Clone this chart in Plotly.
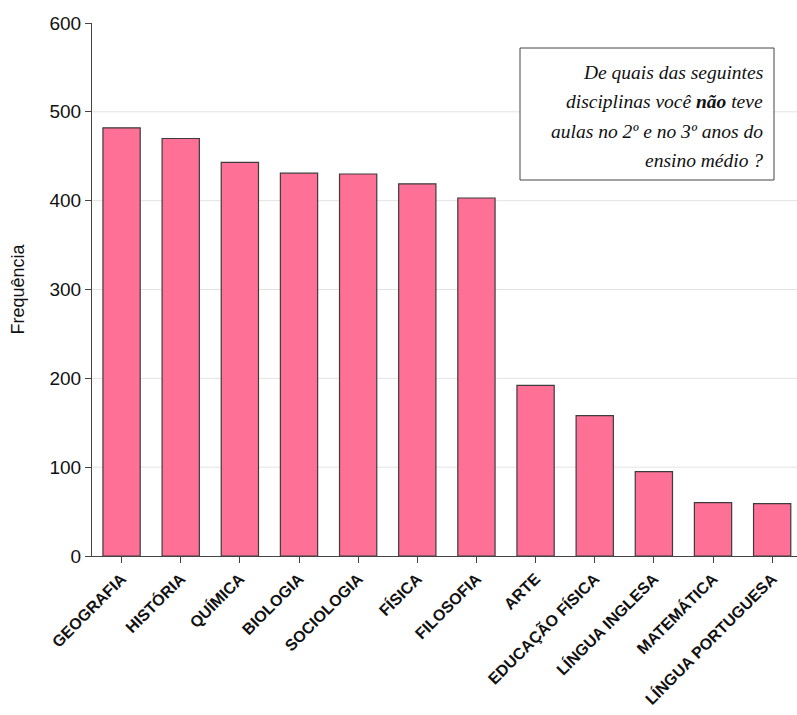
import plotly.graph_objects as go

categories = ["GEOGRAFIA", "HISTÓRIA", "QUÍMICA", "BIOLOGIA", "SOCIOLOGIA", "FÍSICA",
              "FILOSOFIA", "ARTE", "EDUCAÇÃO FÍSICA", "LÍNGUA INGLESA", "MATEMÁTICA",
              "LÍNGUA PORTUGUESA"]
values = [482, 470, 443, 431, 430, 419, 403, 192, 158, 95, 60, 59]
y_ticks = [0, 100, 200, 300, 400, 500, 600]
note_lines = ["De quais das seguintes",
              "disciplinas você <b>não</b> teve",
              "aulas no 2º e no 3º anos do",
              "ensino médio ?"]

W, H = 797, 715
L, R, T, B = 92, 0, 23, 159
pw, ph = W - L - R, H - T - B

fig = go.Figure()
fig.add_trace(go.Bar(
    x=categories, y=values, width=0.63,
    marker=dict(color="#FF7096", line=dict(color="#3c3c3c", width=1.2)),
))

shapes = []
for t in y_ticks:
    if 0 < t < 600:
        shapes.append(dict(type="line", xref="paper", yref="y", x0=0, x1=1, y0=t, y1=t,
                           line=dict(color="#e3e3e3", width=1), layer="below"))

def px_x(px):
    return (px - L) / pw

def px_y(py):
    return (H - B - py) / ph

shapes.append(dict(type="rect", xref="paper", yref="paper",
                   x0=px_x(520), x1=px_x(774), y0=px_y(180), y1=px_y(48),
                   line=dict(color="#444444", width=1), fillcolor="white"))

annotations = []
line_y = [72, 101, 131, 160]
for txt, yy in zip(note_lines, line_y):
    annotations.append(dict(text="<i>" + txt + "</i>", xref="paper", yref="paper",
                            x=px_x(765), y=px_y(yy),
                            xanchor="right", yanchor="middle", showarrow=False,
                            font=dict(family="Liberation Serif", size=19.5, color="#111")))

fig.update_layout(
    width=W, height=H,
    margin=dict(l=L, r=R, t=T, b=B, pad=0),
    plot_bgcolor="white", paper_bgcolor="white",
    showlegend=False,
    shapes=shapes, annotations=annotations,
    font=dict(family="Liberation Sans", color="#111"),
    xaxis=dict(
        range=[-0.5, 11.42], tickangle=-45, ticks="outside", ticklen=6,
        tickcolor="#444", showline=True, linecolor="#444", linewidth=1.2,
        tickfont=dict(family="Liberation Sans", size=16, color="#111"),
        showgrid=False,
        tickmode="array", tickvals=list(range(len(categories))),
        ticktext=["<b>" + c + "</b>" for c in categories],
    ),
    yaxis=dict(
        range=[0, 600], tickvals=y_ticks, ticks="outside", ticklen=6,
        tickcolor="#444", showline=True, linecolor="#444", linewidth=1.2,
        showgrid=False, zeroline=False,
        tickfont=dict(family="Liberation Sans", size=19, color="#111"),
        title=dict(text="Frequência", font=dict(family="Liberation Sans", size=18, color="#111"),
                   standoff=20),
    ),
)

fig.write_html("out.html")
